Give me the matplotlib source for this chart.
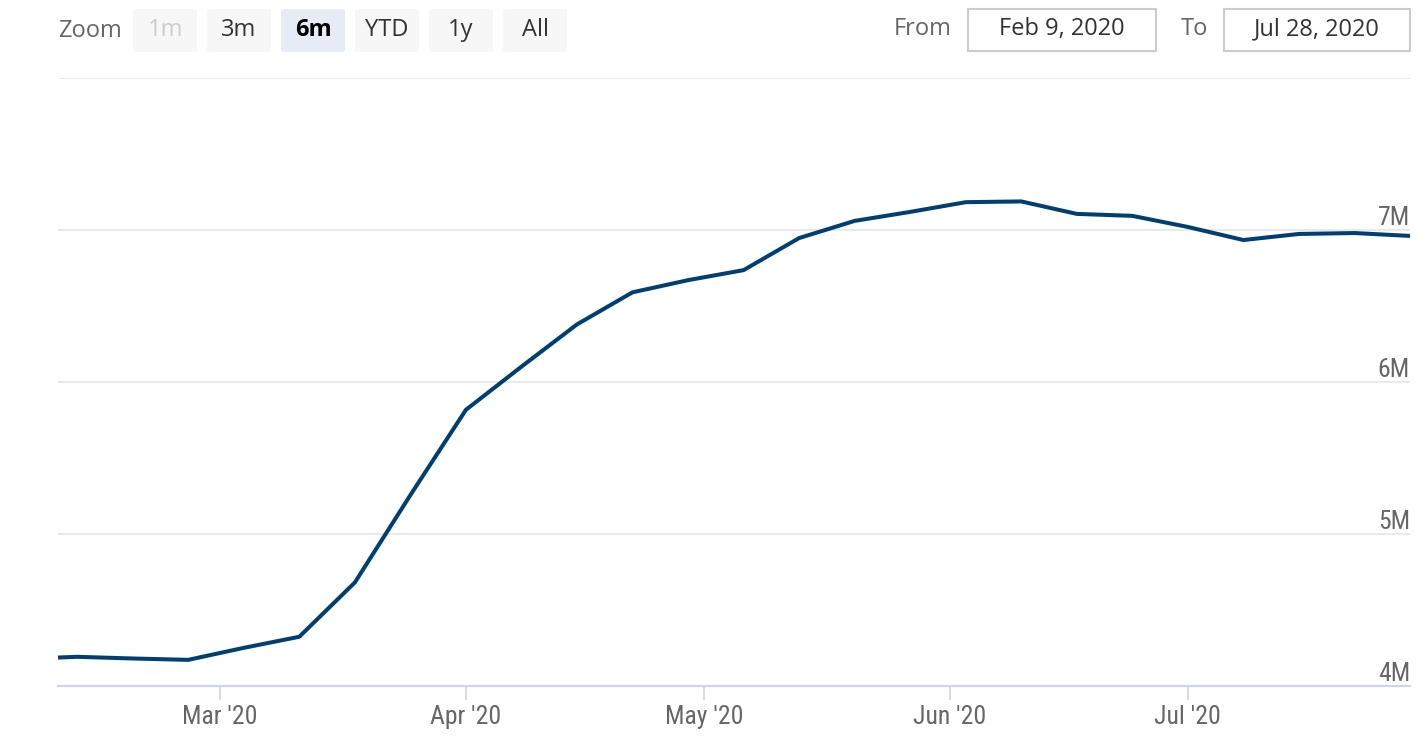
import matplotlib
matplotlib.use("Agg")
import matplotlib.pyplot as plt
from matplotlib import font_manager
from matplotlib.patches import FancyBboxPatch, Rectangle
import datetime as dt

# ---------------- data ----------------
dates = ["2020-02-05", "2020-02-12", "2020-02-19", "2020-02-26", "2020-03-04",
         "2020-03-11", "2020-03-18", "2020-03-25", "2020-04-01", "2020-04-08",
         "2020-04-15", "2020-04-22", "2020-04-29", "2020-05-06", "2020-05-13",
         "2020-05-20", "2020-05-27", "2020-06-03", "2020-06-10", "2020-06-17",
         "2020-06-24", "2020-07-01", "2020-07-08", "2020-07-15", "2020-07-22",
         "2020-07-29"]
values_m = [4.178, 4.192, 4.181, 4.172, 4.251, 4.324, 4.681, 5.256, 5.817, 6.101,
            6.379, 6.590, 6.670, 6.736, 6.947, 7.060, 7.119, 7.183, 7.188, 7.106,
            7.093, 7.020, 6.934, 6.974, 6.980, 6.961]
y_ticks = [4, 5, 6, 7, 8]
y_tick_labels = ["4M", "5M", "6M", "7M", ""]
x_tick_dates = ["2020-03-01", "2020-04-01", "2020-05-01", "2020-06-01", "2020-07-01"]
x_tick_labels = ["Mar '20", "Apr '20", "May '20", "Jun '20", "Jul '20"]
zoom_buttons = ["1m", "3m", "6m", "YTD", "1y", "All"]
range_from = "Feb 9, 2020"
range_to = "Jul 28, 2020"

# ---------------- fonts ----------------
def pick(cands):
    for c in cands:
        try:
            font_manager.findfont(font_manager.FontProperties(family=c), fallback_to_default=False)
            return c
        except Exception:
            pass
    return "DejaVu Sans"

narrow = pick(["Liberation Sans Narrow", "Roboto Condensed", "Open Sans Condensed", "Liberation Sans"])
regular = pick(["Open Sans", "DejaVu Sans"])

W, H = 1419, 736
fig = plt.figure(figsize=(W / 100, H / 100), dpi=100)
fig.patch.set_facecolor("white")

def fx(x):
    return x / W

def fy(y):
    return 1 - y / H

left, right, top, bottom = 58, 1410, 78, 686
ax = fig.add_axes([fx(left), fy(bottom), (right - left) / W, (bottom - top) / H])
ax.set_facecolor("white")

d = [dt.datetime.strptime(s, "%Y-%m-%d") for s in dates]
ax.plot(d, values_m, color="#003f72", lw=2.9, solid_joinstyle="round", zorder=3, clip_on=True)

ax.set_xlim(dt.datetime(2020, 2, 9, 14), dt.datetime(2020, 7, 29))
ax.set_ylim(4, 8)

for s in ["top", "right", "left"]:
    ax.spines[s].set_visible(False)
ax.spines["bottom"].set_color("#ccd6eb")
ax.spines["bottom"].set_linewidth(1.5)

ax.set_yticks(y_ticks)
ax.set_yticklabels([])
ax.tick_params(axis="y", length=0)
for v in y_ticks[1:]:
    ax.axhline(v, color="#e6e6e6", lw=1.2, zorder=1)

for v, lab in zip(y_ticks, y_tick_labels):
    if lab:
        ax.annotate(lab, xy=(1, v), xycoords=("axes fraction", "data"),
                    xytext=(0, 5), textcoords="offset pixels",
                    ha="right", va="baseline", fontsize=18.5, color="#666666",
                    family=narrow)

xt = [dt.datetime.strptime(s, "%Y-%m-%d") for s in x_tick_dates]
ax.set_xticks(xt)
ax.set_xticklabels(x_tick_labels, fontsize=18.5, color="#666666", family=narrow)
ax.tick_params(axis="x", length=10, width=1.2, color="#ccd6eb", pad=4)

# ---------------- range selector ----------------
fig.text(fx(58), fy(31), "Zoom", fontsize=17, color="#666666", ha="left", va="center",
         family=regular)
bx = [133, 207, 281, 355, 429, 503]
for x0, lab in zip(bx, zoom_buttons):
    sel = lab == "6m"
    dis = lab == "1m"
    fc = "#e6ebf5" if sel else "#f7f7f7"
    p = FancyBboxPatch((fx(x0), fy(52)), 64 / W, 43 / H,
                       boxstyle="round,pad=0,rounding_size=0.003",
                       transform=fig.transFigure, fc=fc, ec="none")
    fig.patches.append(p)
    col = "#cccccc" if dis else ("#000000" if sel else "#333333")
    fig.text(fx(x0 + 32), fy(30), lab, fontsize=17, color=col, ha="center", va="center",
             fontweight="bold" if sel else "normal", family=regular)

fig.text(fx(923), fy(29), "From", fontsize=17, color="#666666", ha="center", va="center",
         family=regular)
fig.patches.append(Rectangle((fx(968), fy(51)), 188 / W, 42 / H, transform=fig.transFigure,
                             fc="white", ec="#cccccc", lw=1.5))
fig.text(fx(1062), fy(29), range_from, fontsize=17, color="#333333", ha="center", va="center",
         family=regular)
fig.text(fx(1194), fy(29), "To", fontsize=17, color="#666666", ha="center", va="center",
         family=regular)
fig.patches.append(Rectangle((fx(1224), fy(51)), 186 / W, 42 / H, transform=fig.transFigure,
                             fc="white", ec="#cccccc", lw=1.5))
fig.text(fx(1317), fy(29), range_to, fontsize=17, color="#333333", ha="center", va="center",
         family=regular)

fig.savefig("out.png", dpi=100, facecolor="white")
